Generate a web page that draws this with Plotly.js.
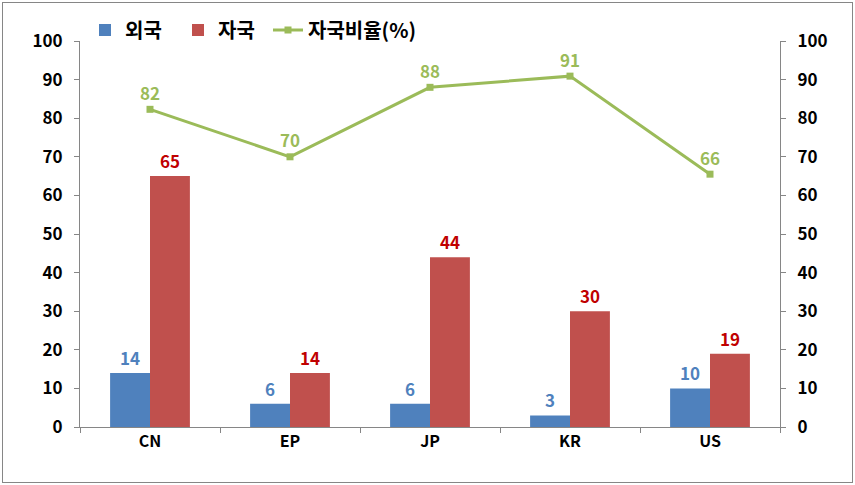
<!DOCTYPE html>
<html><head><meta charset="utf-8">
<script src="https://cdn.plot.ly/plotly-3.0.1.min.js"></script>
<style>html,body{margin:0;padding:0;background:#fff}#wrap{position:relative;width:855px;height:485px}#c{width:855px;height:485px}#b{position:absolute;left:2px;top:2px;width:849px;height:479px;border:1px solid #868686;pointer-events:none}</style>
</head><body><div id="wrap"><div id="c"></div><div id="b"></div></div>
<script>
const categories = ['CN','EP','JP','KR','US'];
const foreign = [14, 6, 6, 3, 10];
const domestic = [65, 14, 44, 30, 19];
const ratio = [82.3, 70, 88, 90.9, 65.5];
const ratioLabels = ['82','70','88','91','66'];
const FONT = '"Noto Sans CJK KR", "Noto Sans", sans-serif';
const traces = [
  {type:'bar', name:'외국', legend:'legend', x:categories, y:foreign, marker:{color:'#4F81BD'},
   text:foreign.map(String), textposition:'outside', cliponaxis:false,
   textfont:{color:'#4F81BD', size:17, family:FONT, weight:'bold'}},
  {type:'bar', name:'자국', legend:'legend2', x:categories, y:domestic, marker:{color:'#C0504D'},
   text:domestic.map(String), textposition:'outside', cliponaxis:false,
   textfont:{color:'#C00000', size:17, family:FONT, weight:'bold'}},
  {type:'scatter', mode:'lines+markers+text', name:'자국비율(%)', legend:'legend3', x:categories, y:ratio, yaxis:'y2',
   line:{color:'#9BBB59', width:3}, marker:{symbol:'square', size:7, color:'#9BBB59'},
   text:ratioLabels, textposition:'top center', cliponaxis:false,
   textfont:{color:'#9BBB59', size:17, family:FONT, weight:'bold'}}
];
function leg(px){
  return {orientation:'h', xref:'container', yref:'container', x:px/855, y:1-30/485,
    xanchor:'left', yanchor:'middle', bgcolor:'rgba(0,0,0,0)',
    font:{size:20, family:FONT, weight:'bold'}, itemwidth:30};
}
const layout = {
  width:855, height:485,
  margin:{l:80, r:75, t:41, b:58, autoexpand:false},
  paper_bgcolor:'#fff', plot_bgcolor:'#fff',
  font:{family:FONT, size:16, color:'#000', weight:'bold'},
  barmode:'group', bargap:0.43, bargroupgap:0,
  showlegend:true,
  legend:leg(85), legend2:leg(178), legend3:leg(268),
  xaxis:{type:'category', showline:true, linecolor:'#868686', linewidth:1,
    ticks:'outside', tickson:'boundaries', ticklen:5, tickcolor:'#868686',
    showgrid:false, zeroline:false, tickfont:{size:16, family:FONT, weight:'bold'}},
  yaxis:{range:[0,100], dtick:10, showline:true, linecolor:'#868686', linewidth:1,
    ticks:'outside', ticklen:5, tickcolor:'#868686', showgrid:false, zeroline:false,
    tickfont:{size:17, family:FONT, weight:'bold'}, ticklabelstandoff:8},
  yaxis2:{range:[0,100], dtick:10, overlaying:'y', side:'right', showline:true,
    linecolor:'#868686', linewidth:1, ticks:'outside', ticklen:5, tickcolor:'#868686',
    showgrid:false, zeroline:false, tickfont:{size:17, family:FONT, weight:'bold'}, ticklabelstandoff:8}
};
Plotly.newPlot('c', traces, layout, {displayModeBar:false, staticPlot:true});
</script></body></html>
